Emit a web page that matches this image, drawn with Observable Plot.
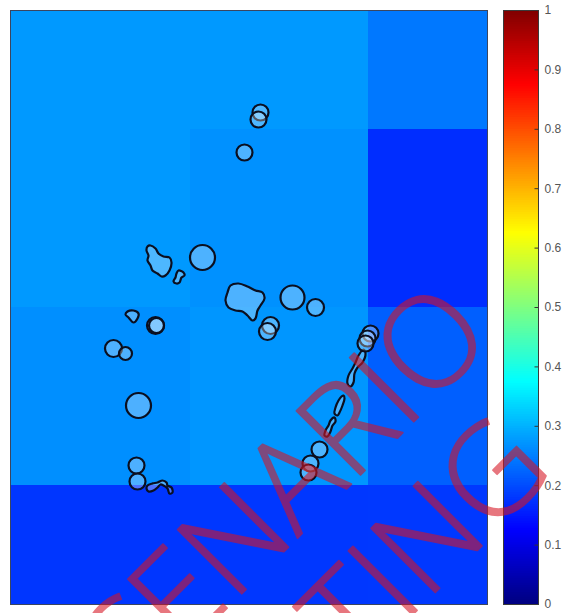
<!DOCTYPE html>
<html>
<head>
<meta charset="utf-8">
<script src="https://cdn.jsdelivr.net/npm/d3@7"></script>
<script src="https://cdn.jsdelivr.net/npm/@observablehq/plot@0.6"></script>
<style>
  body { margin: 0; background: #fff; }
  #wrap { position: relative; width: 570px; height: 613px; overflow: hidden; }
  #bar, #map { position: absolute; top: 0; }
  #bar { left: 490px; }
  #map { left: 0; }
</style>
</head>
<body>
<div id="wrap"><div id="bar"></div><div id="map"></div></div>
<script>
// Grid cell edges (km) and cell values (bottom row first)
const xEdges = [0, 180, 358, 477];
const yEdges = [0, 119, 297, 475, 594];
const cellValues = [
  [0.178, 0.179, 0.180],
  [0.265, 0.272, 0.218],
  [0.275, 0.267, 0.169],
  [0.275, 0.275, 0.2425]
];

// Circular features: [x, y, radius] in km
const circles = [
  [250, 492, 8], [248, 485, 8], [234, 452, 8], [192, 347, 12.5],
  [282, 307, 12], [305, 297, 8.5], [260, 279, 8.5], [257, 273, 8.5],
  [145, 279, 8.5], [146, 279, 7.5], [103, 256, 8.5], [115, 251, 6.5],
  [128, 199, 12.5], [126, 139, 8], [127, 123, 8],
  [360, 271, 8], [357, 266, 8], [355, 261, 8],
  [309, 155, 8], [300, 141, 8], [298, 132, 8]
];

// Island outlines (km)
const islandA = [[140,359],[145,356],[148,351],[153,348],[159,347],[161,342],[159,334],[155,329],[151,328],[147,331],[142,334],[140,339],[137,344],[138,349],[136,354],[137,358]];
const islandB = [[168,334],[173,332],[174,329],[171,327],[169,322],[166,321],[163,323],[165,327],[166,331]];
const islandC = [[220,319],[228,321],[237,318],[245,314],[252,312],[254,306],[250,299],[247,294],[245,286],[242,284],[237,289],[232,293],[225,294],[218,297],[215,304],[217,312]];
const islandD = [[117,293],[123,294],[128,291],[127,286],[123,282],[118,287],[115,290]];
const islandE1 = [[353,255],[355,251],[352,242],[347,237],[344,231],[343,222],[340,218],[337,221],[338,229],[342,236],[345,242],[348,249]];
const islandE2 = [[333,209],[334,206],[332,199],[329,192],[327,189],[324,191],[325,197],[328,204],[331,208]];
const islandE3 = [[324,187],[325,183],[322,179],[320,173],[317,168],[314,169],[315,174],[318,179],[320,184]];
const islandF = [[137,119],[142,121],[147,122],[152,124],[156,122],[157,119],[161,117],[162,112],[159,111],[157,116],[153,119],[150,120],[147,117],[143,114],[138,113],[136,116]];
const islands = [islandA, islandB, islandC, islandD, islandE1, islandE2, islandE3, islandF];

// Colorbar ticks
const colorTicks = [0, 0.1, 0.2, 0.3, 0.4, 0.5, 0.6, 0.7, 0.8, 0.9, 1];

// Watermark
const watermark = [{x: 294, y: 39, text: "SCENARIO\nTESTING"}];

function jet(t) {
  const c = v => Math.max(0, Math.min(1, v));
  const r = c(1.5 - Math.abs(4 * t - 3));
  const g = c(1.5 - Math.abs(4 * t - 2));
  const b = c(1.5 - Math.abs(4 * t - 1));
  return `rgb(${Math.round(r * 255)},${Math.round(g * 255)},${Math.round(b * 255)})`;
}

const cells = [];
cellValues.forEach((row, i) => row.forEach((v, j) => {
  cells.push({x1: xEdges[j], x2: xEdges[j + 1], y1: yEdges[i], y2: yEdges[i + 1], v});
}));
const islandPts = islands.flatMap((pts, id) => pts.map(([x, y]) => ({id, x, y})));
const circleData = circles.map(([x, y, r]) => ({x, y, r}));

const outline = "#0a0f20";

// Colorbar
const rampStops = d3.range(0, 1, 0.004);
const bar = Plot.plot({
  width: 80, height: 613,
  marginLeft: 13, marginRight: 32, marginTop: 10, marginBottom: 9,
  style: {background: "transparent", fontFamily: "Liberation Sans, Arial, sans-serif"},
  x: {domain: [0, 1], axis: null},
  y: {domain: [0, 1], axis: null},
  color: {type: "linear", domain: [0, 1], interpolate: jet},
  marks: [
    Plot.rect(rampStops, {x1: 0, x2: 1, y1: d => d, y2: d => Math.min(1, d + 0.0055), fill: d => d + 0.002}),
    Plot.ruleY(colorTicks.slice(1, -1), {y: d => d, x1: 0.9, x2: 1, stroke: "#333", strokeWidth: 1}),
    Plot.frame({stroke: "#3a3a3a", strokeWidth: 1}),
    Plot.axisY(colorTicks, {anchor: "right", tickSize: 0, tickPadding: 6, tickFormat: d3.format("~g"), fontSize: 12, color: "#555"})
  ]
});
document.getElementById("bar").appendChild(bar);

// Map
const map = Plot.plot({
  width: 570, height: 613,
  marginLeft: 10, marginRight: 83, marginTop: 10, marginBottom: 9,
  style: {background: "transparent", overflow: "visible"},
  x: {domain: [0, 477], axis: null},
  y: {domain: [0, 594], axis: null},
  r: {type: "linear", domain: [0, 100], range: [0, 100]},
  color: {type: "linear", domain: [0, 1], interpolate: jet},
  marks: [
    Plot.rect(cells, {x1: "x1", x2: "x2", y1: "y1", y2: "y2", fill: "v", shapeRendering: "crispEdges"}),
    Plot.frame({stroke: "#3b4660", strokeWidth: 1}),
    Plot.line(islandPts, {x: "x", y: "y", z: "id", curve: "catmull-rom-closed", fill: "white", fillOpacity: 0.3, stroke: outline, strokeWidth: 2.2}),
    Plot.dot(circleData, {x: "x", y: "y", r: "r", fill: "white", fillOpacity: 0.3, stroke: outline, strokeWidth: 2.2}),
    Plot.text(watermark, {x: "x", y: "y", text: "text", rotate: -45, fontSize: 127, lineHeight: 1.07,
      fontFamily: "Open Sans, Liberation Sans, sans-serif", fontWeight: 300,
      fill: "rgb(215,20,35)", stroke: "rgb(215,20,35)", strokeWidth: 1.8, strokeLinejoin: "round",
      opacity: 0.58, textAnchor: "middle", lineAnchor: "middle"})
  ]
});
document.getElementById("map").appendChild(map);
</script>
</body>
</html>
